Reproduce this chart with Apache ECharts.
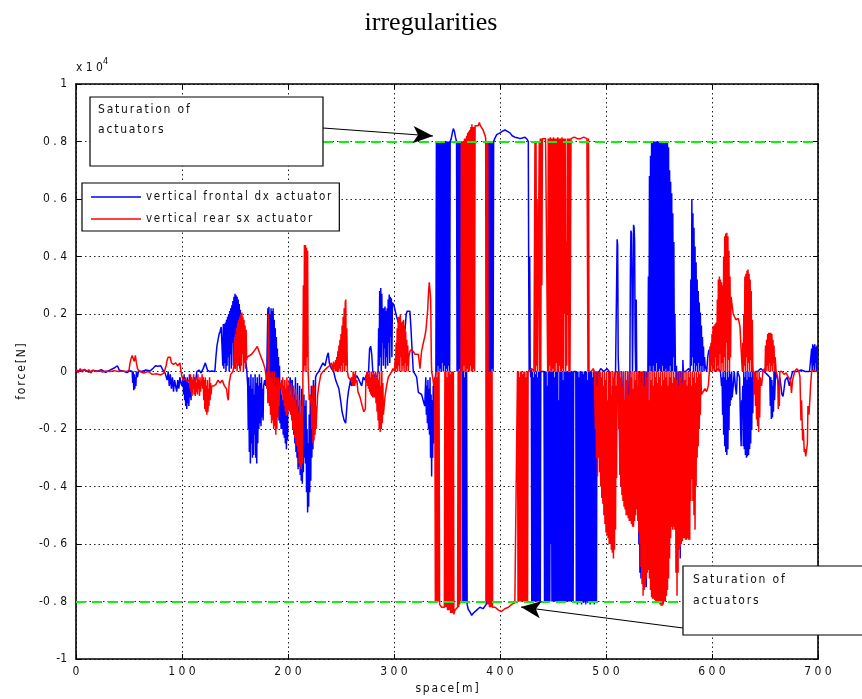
<!DOCTYPE html>
<html>
<head>
<meta charset="utf-8">
<script src="https://cdn.jsdelivr.net/npm/echarts/dist/echarts.min.js"></script>
<style>
  html, body { margin: 0; padding: 0; background: #fff; }
  #chart { width: 862px; height: 699px; }
</style>
</head>
<body>
<div id="chart"></div>
<script>
// force (x 10^4 N) against space [m]
var blueForce = [
  [0,0.004],[4,0.002],[8,0.006],[12,-0.002],[16,0.004],[20,0.001],[24,0.006],[28,-0.003],[32,0.005],[36,0.012],[39,0.02],[41,0.004],[44,0.002],[48,-0.004],[51,0.003],
  [53,0],[53.5,-0.04],[54,0],[54.5,-0.065],[55,-0.01],[55.5,-0.06],[56,-0.02],[56.5,-0.05],[57,0],[58,-0.02],[59,0.003],
  [62,0],[66,0.005],[70,0.002],[73,0.012],[75,0.02],[77,0.018],[80,0.02],[82,0.005],[84,-0.005],
  [86,-0.03],[87,0],[88,-0.05],[89,-0.01],[90,-0.06],[91,-0.02],[92,-0.07],[93,-0.03],[94,-0.05],[95,-0.07],[96,-0.03],[97,-0.06],[98,-0.02],[99,-0.04],[100,-0.05],
  [101,-0.02],[101.5,-0.08],[102,-0.01],[102.5,-0.1],[103,-0.02],[103.5,-0.12],[104,-0.03],[104.5,-0.13],[105,-0.02],[105.5,-0.11],[106,-0.04],[106.5,-0.12],[107,-0.01],[107.5,-0.09],[108,-0.03],[108.5,-0.1],[109,-0.02],[109.5,-0.07],[110,-0.04],[111,-0.06],[112,-0.02],[113,-0.03],[114,0],
  [116,0.005],[118,-0.005],[120,0.01],[122,0.03],[123,0.028],[124,0.005],[126,0],[128,0.002],
  [131,0],[132,0.05],[133,0.09],[134,0.11],[135,0.13],[136,0.14],[137,0.155],[138,0.16],[138.5,0.02],[139,0.165],[139.5,0.01],[140,0.165],[140.5,0.03],[141,0.17],[141.5,0],[142,0.18],[142.5,0.02],[143,0.19],[143.5,0.05],[144,0.2],[144.5,0],[145,0.21],[145.5,0.06],[146,0.22],[146.5,0.01],[147,0.23],[147.5,0.1],[148,0.245],[148.5,0.02],[149,0.26],[149.5,0.12],[150,0.27],[150.5,0.01],[151,0.265],[151.5,0.2],[152,0.26],[152.5,0.02],[153,0.25],[153.5,0.15],[154,0.235],[154.5,0.01],[155,0.215],[155.5,0.1],[156,0.19],[157,0.16],[158,0.12],[159,0.09],[160,0.04],[161,0.01],
  [162,-0.05],[162.5,-0.2],[163,-0.02],[163.5,-0.28],[164,-0.05],[164.5,-0.32],[165,-0.01],[165.5,-0.25],[166,-0.06],[166.5,-0.3],[167,-0.02],[167.5,-0.29],[168,-0.08],[168.5,-0.22],[169,-0.01],[169.5,-0.3],[170,-0.04],[170.5,-0.32],[171,-0.02],[171.5,-0.25],[172,-0.05],[172.5,-0.2],[173,-0.01],[173.5,-0.18],[174,-0.04],[174.5,-0.19],[175,-0.02],[175.5,-0.16],[176,-0.06],[176.5,-0.17],[177,-0.05],[178,-0.03],[179,-0.05],
  [180,0],[181,0.22],[181.5,-0.05],[182,0.225],[182.5,-0.08],[183,0.2],[183.5,-0.09],[184,0.22],[184.5,-0.1],[185,0.21],[185.5,-0.12],[186,0.22],[186.5,-0.13],[187,0.18],[187.5,-0.14],[188,0.15],[188.5,-0.15],[189,0.12],[189.5,-0.16],[190,0.08],[190.5,-0.15],[191,0.05],[191.5,-0.17],[192,0.02],[192.5,-0.18],[193,-0.05],[193.5,-0.2],[194,-0.08],[194.5,-0.2],[195,-0.1],[195.5,-0.22],[196,-0.05],[196.5,-0.23],[197,-0.1],[197.5,-0.25],[198,-0.06],[198.5,-0.27],[199,-0.1],[199.5,-0.24],[200,-0.05],[201,-0.1],[202,-0.02],
  [203,-0.05],[203.5,-0.15],[204,-0.03],[204.5,-0.2],[205,-0.05],[205.5,-0.22],[206,-0.08],[206.5,-0.25],[207,-0.02],[207.5,-0.28],[208,-0.1],[208.5,-0.3],[209,-0.04],[209.5,-0.34],[210,-0.12],[210.5,-0.33],[211,-0.05],[211.5,-0.36],[212,-0.15],[212.5,-0.38],[213,-0.06],[213.5,-0.39],[214,-0.2],[214.5,-0.35],[215,-0.08],[215.5,-0.3],[216,-0.12],[216.5,-0.32],[217,-0.1],[217.5,-0.42],[218,-0.2],[218.5,-0.49],[219,-0.25],[219.5,-0.47],[220,-0.15],[220.5,-0.42],[221,-0.1],[221.5,-0.38],[222,-0.05],[222.5,-0.3],[223,-0.08],[223.5,-0.27],[224,-0.03],[224.5,-0.22],[225,-0.05],[225.5,-0.2],[226,-0.02],[227,-0.01],
  [229,0],[231,0.015],[233,0.03],[235,0.02],[237,0.055],[238,0.065],[239,0.03],[241,0.01],[243,0],[245,-0.03],[246,-0.04],
  [248,-0.06],[249,-0.085],[250,-0.11],[251,-0.14],[252,-0.155],[253,-0.17],[254.4,-0.18],[255,-0.15],[256,-0.1],[257,-0.07],
  [259,-0.03],[260,-0.05],[262,-0.03],[265,-0.015],[267,-0.03],[269.5,-0.05],[271,-0.02],[272.6,-0.03],[274,-0.01],
  [276,0],[277,0.08],[278,0.088],[279,0.06],[280,0],[282,-0.02],[284,-0.015],
  [285,0],[285.5,0.15],[286,0.02],[286.5,0.28],[287,0.05],[287.5,0.29],[288,0],[288.5,0.27],[289,0.1],[289.5,0.22],[290,0.02],[290.5,0.22],[291,0.08],[291.5,0.226],[292,0.01],[292.5,0.21],[293,0.05],[293.5,0.22],[294,0.02],[294.5,0.25],[295,0.1],[295.5,0.268],[296,0.03],[296.5,0.26],[297,0.12],[297.5,0.255],[298,0.05],[298.5,0.24],
  [300,0.23],[302.5,0.19],[305.7,0.15],[308.8,0.11],[310.5,0.15],[311.5,0.2],[312.5,0.21],[314,0.215],[315,0.21],[316,0.15],[316.7,0.1],[318.2,0],
  [320,-0.01],[321.4,-0.02],[323,-0.073],[324.5,-0.07],[326,-0.08],[327.5,-0.1],[329,-0.12],[330,-0.02],[330.5,-0.15],[331,-0.05],[331.5,-0.18],[332,-0.03],[332.5,-0.2],[333,-0.06],[333.5,-0.22],[334,-0.02],[334.5,-0.3],[335,-0.08],[335.5,-0.365],[336,-0.1],[336.5,-0.3],[337,-0.05],[337.5,-0.25],[338,-0.1],[338.5,-0.12],[339,-0.02],
  [339.5,0],[340,0.8],[340.5,0],[341,0.8],[341.5,0.02],[342,0.8],[342.5,0],[343,0.8],[343.5,0.01],[344,0.8],[344.5,0],[345,0.8],[345.5,0.03],[346,0.8],[346.5,0],[347,0.8],[347.5,0.02],[348,0.8],[348.5,0],[349,0.8],[349.5,0.01],[350,0.8],[350.5,0],[351,0.8],[351.5,0.02],[352,0.8],[352.5,0],[353,0.8],
  [354,0.81],[355,0.83],[356,0.845],[357,0.835],[358,0.815],[359,0.8],
  [359.5,0],[360,0.8],[360.5,0],[361,0.8],[361.5,0.01],[362,0.8],[362.5,0],[363,0.8],[363.5,0],[364,0.8],[364.5,0],
  [365,-0.8],[365.5,0],[366,-0.8],[366.5,-0.02],[367,-0.8],[367.5,0],[368,-0.8],[368.5,0],[369,-0.81],
  [370,-0.827],[371.5,-0.835],[373.3,-0.848],[375,-0.84],[376.4,-0.835],[378,-0.83],[379.5,-0.825],[381,-0.82],[382.7,-0.82],[384,-0.825],[385.8,-0.82],[387,-0.81],[388,-0.805],
  [389,0.8],[389.5,-0.8],[390,0.8],[390.5,0],[391,0.8],[391.5,0],[392,0.8],[392.5,0.01],[393,0.8],[393.5,0],[394,0.8],
  [395,0.81],[396.9,0.824],[398.5,0.82],[400,0.83],[402,0.835],[404.7,0.84],[407,0.835],[409.4,0.83],[411.5,0.82],[414,0.815],[416.5,0.813],[418.9,0.81],[421,0.812],[423.6,0.815],[425.5,0.808],[426.7,0.8],
  [427,0.42],[427.5,0],[428,0.4],[428.5,0.01],[429,-0.02],[429.5,0.01],
  [430,-0.8],[430.5,0],[431,-0.8],[431.5,-0.02],[432,-0.8],[432.5,0],[433,-0.8],[433.5,-0.01],[434,-0.8],[434.5,0],[435,-0.8],[435.5,-0.02],[436,-0.8],[436.5,0],[437,-0.8],[437.5,0],[438,-0.8],
  [438.5,0],[440,0],[441.5,0],
  [442,-0.8],[442.5,0],[443,-0.8],[443.5,0],[444,-0.8],[444.5,-0.05],[445,-0.8],[445.5,0],[446,-0.8],[446.5,0],[447,-0.8],[447.5,0],[448,-0.6],[448.5,0],[449,-0.8],[449.5,0],[450,-0.8],[450.5,0],[451,-0.8],[451.5,-0.02],[452,-0.8],[452.5,0],[453,-0.8],[453.5,0],[454,-0.8],[454.5,0],[455,-0.8],[455.5,-0.1],[456,-0.8],[456.5,0],[457,-0.8],[457.5,0],[458,-0.8],[458.5,0],[459,-0.8],[459.5,-0.03],[460,-0.8],[460.5,0],[461,-0.8],[461.5,0],[462,-0.8],[462.5,0],[463,-0.8],[463.5,0],[464,-0.8],[464.5,0],[465,-0.8],[465.5,0],[466,-0.8],[466.5,0],[467,-0.8],[467.5,0],[468,-0.8],[468.5,0],[469,-0.8],[469.5,0],
  [470.5,0],[471.5,0],
  [472,-0.8],[472.5,0],[473,-0.81],[473.5,0],[474,-0.8],[474.5,-0.02],[475,-0.805],[475.5,0],[476,-0.8],[476.5,0],[477,-0.81],[477.5,0],[478,-0.8],[478.5,-0.01],[479,-0.805],[479.5,0],[480,-0.8],[480.5,0],[481,-0.81],[481.5,0],[482,-0.8],[482.5,-0.03],[483,-0.805],[483.5,0],[484,-0.8],[484.5,0],[485,-0.81],[485.5,0],[486,-0.8],[486.5,0],[487,-0.805],[487.5,-0.02],[488,-0.8],[488.5,0],[489,-0.81],[489.5,0],[490,-0.8],[490.5,0],[491,-0.8],[491.5,0],
  [492,-0.01],[493,-0.2],[493.5,0],[495,0.01],[498,0],[501,0.01],
  [503,0],[503.5,-0.3],[504,-0.05],[504.5,-0.45],[505,-0.1],[505.5,-0.48],[506,-0.05],[506.5,-0.4],[507,-0.1],[507.5,-0.3],[508,-0.02],
  [509,0],[510,0.3],[510.5,0.46],[511,0.44],[511.5,0.05],[512,0],
  [513,-0.3],[513.5,-0.05],[514,-0.4],[514.5,0],[516,-0.2],[516.5,0],[518,-0.45],[518.5,-0.1],[520,-0.35],[520.5,0],[522,-0.2],[522.5,0],
  [523,0.35],[523.5,0.49],[524,0.48],[524.5,0.3],[525,0],[525.5,0.2],[526,0.51],[526.5,0.5],[527,0.45],[527.5,0.1],[528,0],[528.5,0.25],[529,0],
  [530,-0.5],[530.5,-0.1],[531,-0.6],[531.5,0],[532,-0.7],[532.5,-0.2],[533,-0.72],[533.5,0],[534,-0.65],[534.5,-0.1],[535,-0.7],[535.5,0],[536,-0.6],[536.5,0],[537,-0.5],[537.5,0],[538,-0.75],[538.5,0],[539,-0.6],[539.5,0],
  [540,0.33],[540.5,0],[541,0.68],[541.5,0.02],[542,0.75],[542.5,0],
  [543,0.8],[543.5,0],[544,0.8],[544.5,0.02],[545,0.8],[545.5,0],[546,0.8],[546.5,0],[547,0.8],[547.5,0.03],[548,0.8],[548.5,0],[549,0.8],[549.5,0],[550,0.8],[550.5,0.01],[551,0.8],[551.5,0],[552,0.8],[552.5,0],[553,0.8],[553.5,0.02],[554,0.8],[554.5,0],[555,0.8],[555.5,0],[556,0.8],[556.5,0.01],[557,0.8],[557.5,0],[558,0.8],[558.5,0],
  [559,0.78],[559.5,0],[560,0.7],[560.5,0.02],[561,0.66],[561.5,0],[562,0.62],[562.5,0],[563,0.55],[563.5,0.05],[564,0.45],[564.5,0],[565,0.2],[565.5,0],[566.5,0.02],
  [568,-0.3],[568.5,0],[569,-0.55],[569.5,-0.1],[570,-0.65],[570.5,0],[571,-0.6],[571.5,-0.2],[572,-0.4],[572.5,0.04],[573,0],
  [575,0],[578,0.01],
  [579.5,0],[580,0.32],[580.5,0.02],[581,0.6],[581.5,0.05],[582,0.55],[582.5,0],[583,0.5],[583.5,0.03],[584,0.435],[584.5,0],[585,0.38],[585.5,0.02],[586,0.32],[586.5,0],[587,0.28],[587.5,0.03],[588,0.24],[588.5,0],[589,0.205],[589.5,0.02],[590,0.16],[590.5,0],[591,0.12],[591.5,0.02],[592,0.087],[592.5,0],[593,0.05],[593.5,0.02],[595,0],
  [596,0.05],[597,0.075],[598,0.06],[599,0.07],[600,0.04],[601,0.02],[603,0],[606,0.01],[608,0],
  [609,-0.05],[609.5,-0.02],[610,-0.15],[610.5,0],[611,-0.22],[611.5,-0.02],[612,-0.26],[612.5,0],[613,-0.28],[613.5,-0.03],[614,-0.29],[614.5,0],[615,-0.27],[615.5,-0.02],[616,-0.2],[616.5,0],[617,-0.12],[617.5,-0.01],[618,-0.1],[618.5,0],[619,-0.09],[620,-0.05],[621,0],
  [622,-0.05],[623,-0.08],[624,0],
  [626,-0.02],[627,-0.2],[627.5,-0.26],[628,-0.1],[628.5,-0.15],[629,-0.05],[629.5,-0.26],[630,0],[630.5,-0.27],[631,-0.02],[631.5,-0.29],[632,0],[632.5,-0.3],[633,-0.03],[633.5,-0.295],[634,0],[634.5,-0.29],[635,-0.02],[635.5,-0.27],[636,0],[636.5,-0.25],[637,-0.02],[637.5,-0.2],[638,0],[638.5,-0.145],[639,-0.01],[640,-0.05],[641,0],
  [643,0],[646,0.01],[649,0],[652,-0.01],
  [654.5,-0.02],[655,-0.12],[655.5,-0.02],[656,-0.165],[656.5,-0.03],[657,-0.16],[657.5,-0.05],[658,-0.14],[658.5,0],[659,-0.1],[660,0],
  [662,-0.03],[663,-0.05],[664,-0.02],[666,-0.08],[667,-0.087],[668,-0.06],[669,-0.03],[671,-0.02],[673,-0.05],[674,-0.03],[676,0],[680,0],[684,0.005],[688,0],[692,0],
  [693.5,0],[694,0.08],[694.5,0],[695,0.095],[695.5,0.02],[696,0.09],[696.5,0],[697,0.095],[697.5,0.03],[698,0.085],[698.5,0],[699,0.09],[699.5,0.06],[700,0.07]
];

var redForce = [
  [0,0.006],[2,-0.004],[4,0.01],[6,-0.002],[8,0.008],[10,0],[12,0.006],[14,-0.005],[16,0.004],[19,0],[22,0.003],[25,-0.002],[28,0.002],[32,0],[36,0.003],[40,0],[44,0.002],[48,0],
  [50,0.005],[51,0.03],[52,0.045],[53,0.056],[54,0.05],[55,0.035],[56,0.056],[57,0.03],[58,0.01],[60,0],[64,-0.005],[68,0],[72,-0.01],[76,-0.008],[80,-0.012],[83,-0.005],[85,0.02],[86,0.04],[87,0.05],[88,0.045],[89,0.05],[90,0.03],[92,0.025],[94,0.03],[96,0.02],[98,0.03],
  [99.7,-0.015],[101,-0.03],[103,-0.025],[105,-0.035],[107,-0.03],[107.5,-0.06],[108,-0.01],[108.5,-0.07],[109,-0.02],[109.5,-0.085],[110,-0.03],[110.5,-0.06],[111,-0.01],[111.5,-0.08],[112,-0.03],[112.5,-0.085],[113,-0.02],[113.5,-0.07],[114,-0.04],[114.5,-0.08],[115,-0.01],[115.5,-0.06],[116,-0.03],[116.5,-0.085],[117,-0.02],[117.5,-0.07],[118,-0.04],[118.5,-0.05],[119,-0.01],[119.5,-0.06],[120,-0.02],[120.5,-0.1],[121,-0.03],[121.5,-0.13],[122,-0.02],[122.5,-0.14],[123,-0.05],[123.5,-0.15],[124,-0.03],[124.5,-0.14],[125,-0.06],[125.5,-0.12],[126,-0.02],[126.5,-0.1],[127,-0.04],[127.5,-0.08],[128,-0.05],[130,-0.05],[132,-0.045],[134,-0.03],[136,-0.04],[138,-0.03],[140,-0.05],[142,-0.06],[143,-0.09],[143.7,-0.1],[144.5,-0.04],[146,-0.01],[148,0],
  [149,0.02],[149.5,0.11],[150,0.01],[150.5,0.13],[151,0.03],[151.5,0.15],[152,0],[152.5,0.17],[153,0.02],[153.5,0.18],[154,0.05],[154.5,0.19],[155,0],[155.5,0.2],[156,0.02],[156.5,0.205],[157,0.06],[157.5,0.19],[158,0],[158.5,0.18],[159,0.03],[159.5,0.16],[160,0.01],[160.5,0.145],[161,0.04],[161.5,0.05],
  [162.6,0.05],[165.7,0.06],[168.8,0.075],[171,0.087],[173.6,0.06],[176.7,0.03],[178.3,0.01],[179.5,-0.02],
  [180,-0.06],[180.5,0],[181,-0.11],[181.5,0.2],[182,0.05],[182.5,-0.12],[183,0],[183.5,-0.15],[184,-0.02],[184.5,-0.18],[185,0],[185.5,-0.17],[186,-0.04],[186.5,-0.2],[187,0],[187.5,-0.19],[188,-0.05],[188.5,-0.22],[189,-0.02],[189.5,-0.2],[190,-0.06],[190.5,-0.16],[191,-0.02],[191.5,-0.12],[192,-0.04],[193,-0.06],
  [194,-0.03],[194.5,-0.08],[195,-0.02],[195.5,-0.1],[196,-0.05],[196.5,-0.12],[197,-0.03],[197.5,-0.14],[198,-0.06],[198.5,-0.155],[199,-0.02],[199.5,-0.15],[200,-0.07],[200.5,-0.13],[201,-0.03],[201.5,-0.14],[202,-0.08],[202.5,-0.15],[203,-0.04],[203.5,-0.17],[204,-0.09],[204.5,-0.2],[205,-0.05],[205.5,-0.21],[206,-0.1],[206.5,-0.23],[207,-0.06],[207.5,-0.25],[208,-0.12],[208.5,-0.26],[209,-0.08],[209.5,-0.28],[210,-0.14],[210.5,-0.32],[211,-0.1],[211.5,-0.33],[212,-0.15],[212.5,-0.34],[213,-0.12],[213.5,-0.32],[214,-0.05],
  [214.5,0.3],[215,0],[215.5,0.44],[216,0.02],[216.5,0.44],[217,0],[217.5,0.43],[218,0.05],[218.5,0.42],[219,0],
  [219.5,-0.05],[220,-0.1],[221,-0.08],[222,-0.12],[222.5,-0.2],[223,-0.05],[223.5,-0.25],[224,-0.1],[224.5,-0.24],[225,-0.05],[225.5,-0.22],[226,-0.12],[226.5,-0.2],[227,-0.15],[228,-0.08],[229,-0.05],[231,-0.01],
  [233,0],[236,0.01],[239,0.02],[241,0.03],
  [242,0.035],[242.5,0],[243,0.035],[243.5,0.01],[244,0.03],[244.5,0],[245,0.04],[245.5,0],[246,0.05],[246.5,0],[247,0.07],[247.5,0],[248,0.09],[248.5,0.01],[249,0.11],[249.5,0],[250,0.13],[250.5,0.02],[251,0.16],[251.5,0],[252,0.19],[252.5,0.03],[253,0.22],[253.5,0],[254,0.24],[254.5,0.25],[255,0.02],[255.5,0.15],[256,0],
  [257,-0.02],[259,-0.03],[260,-0.02],[261,-0.05],[261.5,0],[262,-0.05],[262.5,-0.01],[263,-0.05],[263.5,0],[264,-0.04],[265,-0.03],[266,-0.07],[268,-0.09],[270,-0.12],[271.5,-0.14],[273,-0.13],
  [273.5,-0.02],[274,-0.04],[274.5,0],[275,-0.05],[275.5,-0.01],[276,-0.06],[276.5,0],[277,-0.07],[277.5,-0.02],[278,-0.08],[278.5,0],[279,-0.085],[279.5,-0.01],[280,-0.09],[280.5,0],[281,-0.09],[281.5,-0.02],[282,-0.09],[282.5,0],[283,-0.11],[283.5,-0.02],[284,-0.14],[284.5,0],[285,-0.17],[285.5,-0.03],[286,-0.2],[286.5,0],[287,-0.21],[287.5,-0.05],[288,-0.2],[288.5,0],[289,-0.18],[289.5,-0.04],[290,-0.15],
  [291.5,-0.087],[293,-0.05],[294.6,-0.02],[297.8,0],[299,0.01],
  [300.5,0],[301,0.04],[301.5,0],[302,0.1],[302.5,0.01],[303,0.15],[303.5,0],[304,0.19],[304.5,0.02],[305,0.19],[305.5,0],[306,0.2],[306.5,0.05],[307,0.17],[307.5,0],[308,0.175],[308.5,0.02],[309,0.18],[309.5,0],[310,0.16],[310.5,0.03],[311,0.14],[311.5,0],[312,0.11],[312.5,0.02],[313,0.09],[313.5,0],[314,0.05],
  [315,0.07],[316.7,0.077],[318,0.07],[319.8,0.06],[321.5,0.065],[323,0.06],[324.5,0.01],[326,0.07],[327.7,0.1],[329,0.12],[330.2,0.146],
  [331,0.15],[331.8,0.215],[332.5,0.27],[333.3,0.31],[334,0.28],[334.6,0.25],[335.2,0.05],[335.5,0],[336.5,-0.02],[337.5,-0.05],[338.5,-0.02],
  [339,-0.8],[339.5,0],[340,-0.8],[340.5,-0.02],[341,-0.8],[341.5,0],[342,-0.8],[342.5,0],[343,-0.81],
  [344,-0.815],[345,-0.82],[346.5,-0.82],[347.5,-0.82],
  [348,0],[348.5,-0.82],[349,0],[349.5,-0.82],[350,-0.02],[350.5,-0.83],[351,0],[351.5,-0.83],[352,0],[352.5,-0.83],[353,-0.01],[353.5,-0.84],[354,0],[354.5,-0.84],[355,0],[355.5,-0.84],[356,0],[356.5,-0.845],
  [357.5,-0.83],[359,-0.825],[360,-0.82],
  [360.5,0],[361,-0.82],[361.5,0],[362,-0.81],[362.5,0],[363,-0.8],
  [363.5,0.8],[364,0],[364.5,0.8],[365,0],[365.5,0.8],[366,0.02],[366.5,0.81],[367,0],[367.5,0.81],[368,0],[368.5,0.82],[369,0.01],[369.5,0.83],[370,0],[370.5,0.835],[371,0],[371.5,0.84],[372,0.02],[372.5,0.85],[373,0],[373.5,0.86],[374,0],[374.5,0.85],[375,0.01],[375.5,0.85],[376,0],[376.5,0.855],
  [378,0.86],[379.5,0.855],[380.5,0.866],[381.5,0.855],[382.7,0.85],[384,0.84],[385,0.83],[386,0.82],[386.5,0.81],[387,-0.8],[387.5,0.8],[388,-0.81],[388.5,0.8],
  [389,-0.81],[389.5,0],[390,-0.82],[390.5,0],[391,-0.82],[391.5,0],[392,-0.82],[392.5,0],[393,-0.82],
  [394,-0.815],[395.5,-0.82],[397,-0.825],[398.5,-0.83],[400,-0.835],[401.5,-0.835],[403,-0.83],[404.5,-0.825],[406.3,-0.82],[408,-0.82],[409.4,-0.815],[411,-0.81],[412.5,-0.81],[414,-0.805],[415.8,-0.8],
  [416.5,0],[417,-0.8],[417.5,0],[418,-0.8],[418.5,-0.02],[419,-0.8],[419.5,0],[420,-0.8],[420.5,0],[421,-0.8],[421.5,-0.01],[422,-0.8],[422.5,0],[423,-0.8],[423.5,0],[424,-0.8],[424.5,-0.02],[425,-0.8],[425.5,0],[426,-0.8],[426.5,0],
  [428,0],[430,0.01],[432,0],
  [433,0.8],[433.5,0],[434,0.8],[434.5,0.02],[435,0.6],[435.5,0],[437,0.8],[437.5,0],[438,0.81],[438.5,0],[439,0.81],[439.5,0.3],
  [440,0.81],[441.5,0.815],[443,0.81],[444.5,0.81],
  [445,0],[445.5,0.81],[446,0],[446.5,0.81],[447,0.02],[447.5,0.815],[448,0],[448.5,0.81],[449,0],[449.5,0.81],[450,0.01],[450.5,0.815],[451,0],[451.5,0.81],[452,0],[452.5,0.81],[453,0.03],[453.5,0.81],[454,0],[454.5,0.815],[455,0],[455.5,0.81],[456,0.02],[456.5,0.81],[457,0],[457.5,0.81],[458,0],[458.5,0.815],[459,0.01],[459.5,0.81],[460,0],[460.5,0.81],[461,0.2],[461.5,0.81],[462,0],[462.5,0.45],[463,0.02],[463.5,0.81],[464,0.2],[464.5,0.81],[465,0],[465.5,0.81],[466,0],
  [467,0.81],[470,0.815],[473,0.81],[476,0.81],[479,0.815],[482,0.81],
  [483,0],[483.5,0.81],[484,0],
  [486,0],[488,0.01],[489,0],
  [490,-0.2],[490.5,0],[491,-0.3],[491.5,-0.05],[492,-0.365],[492.5,0],[493,-0.3],[493.5,-0.02],[494,-0.35],
  [494.5,0],[495,-0.4],[495.5,-0.02],[496,-0.44],[496.5,0],[497,-0.46],[497.5,-0.05],[498,-0.5],[498.5,0],[499,-0.53],[499.5,-0.03],[500,-0.56],[500.5,0],[501,-0.57],[501.5,-0.1],[502,-0.58],[502.5,0],[503,-0.6],[503.5,-0.04],[504,-0.6],[504.5,0],[505,-0.62],[505.5,-0.08],[506,-0.63],[506.5,0],[507,-0.65],[507.5,-0.02],[508,-0.62],[508.5,0],[509,-0.55],[509.5,-0.05],[510,-0.37],
  [510.5,0],[511,-0.1],[511.5,0],[512,-0.2],[512.5,0],[513,-0.36],[513.5,-0.02],[514,-0.4],[514.5,0],[515,-0.43],[515.5,-0.05],[516,-0.45],[516.5,0],[517,-0.47],[517.5,-0.1],[518,-0.48],[518.5,0],[519,-0.5],[519.5,-0.03],[520,-0.5],[520.5,0],[521,-0.51],[521.5,-0.08],[522,-0.52],[522.5,0],[523,-0.52],[523.5,-0.02],[524,-0.53],[524.5,0],[525,-0.54],[525.5,-0.06],[526,-0.54],[526.5,0],[527,-0.52],[527.5,-0.03],[528,-0.5],[528.5,0],[529,-0.48],[529.5,-0.05],[530,-0.52],[530.5,0],[531,-0.56],[531.5,-0.02],[532,-0.6],[532.5,0],[533,-0.68],[533.5,-0.04],[534,-0.74],[534.5,0],[535,-0.78],
  [535.5,0],[536,-0.76],[536.5,-0.05],[537,-0.75],[537.5,0],[538,-0.72],[538.5,-0.02],[539,-0.7],[539.5,0],[540,-0.69],[540.5,-0.1],[541,-0.72],[541.5,0],[542,-0.76],[542.5,-0.03],[543,-0.785],[543.5,0],[544,-0.79],[544.5,-0.05],[545,-0.79],[545.5,0],[546,-0.795],[546.5,-0.02],[547,-0.8],[547.5,0],[548,-0.8],[548.5,-0.04],[549,-0.8],[549.5,0],[550,-0.805],[550.5,-0.02],[551,-0.81],[551.5,0],[552,-0.815],[552.5,-0.05],[553,-0.815],[553.5,0],[554,-0.81],[554.5,-0.03],[555,-0.8],[555.5,0],[556,-0.8],[556.5,-0.02],[557,-0.78],[557.5,0],[558,-0.76],[558.5,-0.05],[559,-0.72],[559.5,0],[560,-0.65],[560.5,-0.02],[561,-0.58],[561.5,0],[562,-0.54],[562.5,-0.04],[563,-0.55],[563.5,0],[564,-0.54],[564.5,-0.02],[565,-0.55],[565.5,0],[566,-0.7],[566.5,-0.03],[567,-0.78],[567.5,0],[568,-0.7],[568.5,-0.05],[569,-0.62],[569.5,0],[570,-0.61],[570.5,-0.02],[571,-0.6],[571.5,0],[572,-0.59],[572.5,-0.04],[573,-0.58],[573.5,0],[574,-0.58],[574.5,-0.03],[575,-0.585],[575.5,0],[576,-0.585],[576.5,-0.05],[577,-0.58],[577.5,0],[578,-0.585],[578.5,-0.02],[579,-0.585],[579.5,0],[580,-0.45],[580.5,-0.05],[581,-0.375],[581.5,0],[582,-0.45],[582.5,-0.02],[583,-0.5],[583.5,0],[584,-0.55],[584.5,-0.04],[585,-0.4],[585.5,0],[586,-0.3],[586.5,-0.02],[587,-0.26],[587.5,0],[588,-0.2],[588.5,-0.01],[589,-0.15],[589.5,0],[590,-0.08],
  [591.8,-0.075],[593.4,-0.06],[595,-0.07],[596.5,-0.05],[597.5,0],
  [598,0.087],[598.5,0],[599,0.1],[599.5,0.02],[600,0.13],[600.5,0],[601,0.157],[601.5,0.03],[602,0.16],[602.5,0],[603,0.165],[603.5,0.05],[604,0.17],[604.5,0],[605,0.25],[605.5,0.02],[606,0.32],[606.5,0],[607,0.33],[607.5,0.06],[608,0.32],[608.5,0],[609,0.31],[609.5,0.03],[610,0.3],[610.5,0],[611,0.4],[611.5,0.05],[612,0.47],[612.5,0],[613,0.48],[613.5,0.1],[614,0.483],[614.5,0],[615,0.47],[615.5,0.04],[616,0.42],[616.5,0],[617,0.33],[617.5,0.05],[618,0.26],
  [620,0.2],[622.6,0.18],[624.8,0.185],[626.4,0.157],[627.4,0.08],[628.6,0],
  [629,0.1],[629.5,0],[630,0.2],[630.5,0.02],[631,0.33],[631.5,0],[632,0.34],[632.5,0.05],[633,0.35],[633.5,0],[634,0.355],[634.5,0.03],[635,0.34],[635.5,0],[636,0.32],[636.5,0.04],[637,0.28],[637.5,0],[638,0.18],[638.5,0.02],[639,0.02],
  [639.5,-0.03],[640,-0.08],[640.5,0],[641,-0.12],[641.5,-0.02],[642,-0.167],[642.5,0],[643,-0.19],[643.5,-0.03],[644,-0.21],[644.5,0],[645,-0.16],[645.5,-0.02],[646.8,-0.05],[648,0],[649.5,0.01],
  [650,0],[650.5,0.09],[651,0],[651.5,0.11],[652,0.02],[652.5,0.13],[653,0],[653.5,0.135],[654,0.03],[654.5,0.135],[655,0],[655.5,0.135],[656,0.02],[656.5,0.13],[657,0],[657.5,0.11],[658,0.03],[658.5,0.09],[659,0],[659.6,0.05],[660.5,0],
  [662,-0.02],[662.5,-0.13],[663,-0.05],[663.5,-0.12],[664,0],
  [666,0],[668,-0.01],[670,-0.005],[672,-0.02],[674,-0.03],[675,-0.075],[676,-0.03],[678,0],[680,0.01],[682,0],
  [683,-0.02],[683.9,-0.17],[684.5,-0.1],[685.5,-0.24],[686.2,-0.2],[687,-0.28],[687.7,-0.27],[688.4,-0.295],[689,-0.28],[690,-0.25],[690.5,-0.12],[691.5,-0.15],[692.3,-0.1],[693,-0.05],[694,0],[696,0.005],[698,0],[700,0]
];

var seriesNames = ['vertical frontal dx actuator', 'vertical rear sx actuator'];
var satLevel = 0.8;
var satTopFrom = 233;      // green limit line at +0.8 starts right of the first note box
var satBottomTo = 590;     // green limit line at -0.8 ends under the second note
var noteText = ['Saturation of', 'actuators'];

var NARROW = "'Liberation Sans Narrow', 'DejaVu Sans Condensed', sans-serif";
var GAP = '\u2006';

function spread(s, sep) {
  return s.split('').join(sep);
}
function tickText(v) {
  var s = String(Math.round(v * 10) / 10);
  var neg = s.charAt(0) === '-';
  if (neg) s = s.slice(1);
  return (neg ? '-' : '') + spread(s, ' ');
}

var chart = echarts.init(document.getElementById('chart'), null, { renderer: 'canvas' });

var axisLine = { show: true, onZero: false, lineStyle: { color: '#000', width: 1.6 } };
var gridLine = { show: true, lineStyle: { color: '#222', width: 1, type: [1.5, 3] } };
var inTick = { show: true, inside: true, length: 5, lineStyle: { color: '#000' } };

var option = {
  backgroundColor: '#fff',
  animation: false,
  title: {
    text: 'irregularities',
    left: 'center',
    top: 5,
    textStyle: { fontFamily: "'Liberation Serif', 'DejaVu Serif', serif", fontSize: 26, fontWeight: 'normal', color: '#000' }
  },
  grid: { left: 76, top: 84, right: 44, bottom: 40, containLabel: false, outerBoundsMode: 'none' },
  legend: {
    data: seriesNames,
    orient: 'vertical',
    left: 82,
    top: 183,
    selectedMode: false,
    backgroundColor: '#fff',
    borderColor: '#000',
    borderWidth: 1.2,
    borderRadius: 0,
    padding: [8, 8, 6, 9],
    itemGap: 10,
    itemWidth: 50,
    itemHeight: 1.6,
    icon: 'rect',
    z: 20,
    formatter: function (name) { return spread(name, GAP); },
    textStyle: { fontFamily: NARROW, fontSize: 11.5, color: '#111' }
  },
  xAxis: [{
    type: 'value', min: 0, max: 700, interval: 100,
    name: spread('space[m]', GAP), nameLocation: 'middle', nameGap: 24,
    nameTextStyle: { fontFamily: NARROW, fontSize: 12, color: '#111' },
    axisLine: axisLine,
    axisTick: inTick,
    axisLabel: { formatter: tickText, margin: 7, fontFamily: NARROW, fontSize: 12, color: '#111' },
    splitLine: gridLine
  }, {
    type: 'value', position: 'top', min: 0, max: 700, interval: 100,
    axisLine: axisLine,
    axisTick: inTick,
    axisLabel: { show: false }, splitLine: { show: false }
  }],
  yAxis: [{
    type: 'value', min: -1, max: 1, interval: 0.2,
    name: spread('force[N]', GAP), nameLocation: 'middle', nameGap: 43, nameRotate: 90,
    nameTextStyle: { fontFamily: NARROW, fontSize: 12, color: '#111' },
    axisLine: axisLine,
    axisTick: inTick,
    axisLabel: { formatter: tickText, margin: 9, fontFamily: NARROW, fontSize: 12, color: '#111' },
    splitLine: gridLine
  }, {
    type: 'value', position: 'right', min: -1, max: 1, interval: 0.2,
    axisLine: axisLine,
    axisTick: inTick,
    axisLabel: { show: false }, splitLine: { show: false }
  }],
  series: [{
    name: seriesNames[0],
    type: 'line',
    data: blueForce,
    showSymbol: false,
    sampling: null,
    color: '#0000ff',
    lineStyle: { color: '#0000ff', width: 1.5 },
    z: 3
  }, {
    name: seriesNames[1],
    type: 'line',
    data: redForce,
    showSymbol: false,
    sampling: null,
    color: '#ff0000',
    lineStyle: { color: '#ff0000', width: 1.5 },
    z: 4,
    markLine: {
      silent: true,
      symbol: ['none', 'none'],
      label: { show: false },
      lineStyle: { color: '#11ee11', width: 2.2, type: [10, 6] },
      data: [
        [{ coord: [satTopFrom, satLevel] }, { coord: [700, satLevel] }],
        [{ coord: [0, -satLevel] }, { coord: [satBottomTo, -satLevel] }],
        [{ x: 323, y: 128, symbol: 'none', lineStyle: { color: '#000', width: 1.2, type: 'solid' } },
         { x: 433, y: 136, symbol: 'arrow', symbolSize: [13, 20], lineStyle: { color: '#000', width: 1.2, type: 'solid' } }],
        [{ x: 683, y: 628, symbol: 'none', lineStyle: { color: '#000', width: 1.2, type: 'solid' } },
         { x: 521, y: 607, symbol: 'arrow', symbolSize: [13, 20], lineStyle: { color: '#000', width: 1.2, type: 'solid' } }]
      ]
    }
  }],
  graphic: [
    { type: 'rect', z: 30, shape: { x: 90, y: 97, width: 233, height: 69 }, style: { fill: '#fff', stroke: '#000', lineWidth: 1.2 } },
    { type: 'text', z: 31, x: 98, y: 110, style: { text: spread(noteText[0], GAP), fill: '#111', font: '12px ' + NARROW, verticalAlign: 'middle' } },
    { type: 'text', z: 31, x: 98, y: 130, style: { text: spread(noteText[1], GAP), fill: '#111', font: '12px ' + NARROW, verticalAlign: 'middle' } },
    { type: 'rect', z: 30, shape: { x: 683, y: 566, width: 200, height: 69 }, style: { fill: '#fff', stroke: '#000', lineWidth: 1.2 } },
    { type: 'text', z: 31, x: 693, y: 580, style: { text: spread(noteText[0], GAP), fill: '#111', font: '12px ' + NARROW, verticalAlign: 'middle' } },
    { type: 'text', z: 31, x: 693, y: 601, style: { text: spread(noteText[1], GAP), fill: '#111', font: '12px ' + NARROW, verticalAlign: 'middle' } },
    { type: 'text', z: 31, x: 76, y: 68, style: { text: 'x 1 0', fill: '#111', font: '12px ' + NARROW, verticalAlign: 'middle' } },
    { type: 'text', z: 31, x: 103, y: 62, style: { text: '4', fill: '#111', font: '9px ' + NARROW, verticalAlign: 'middle' } }
  ]
};

chart.setOption(option);
</script>
</body>
</html>
